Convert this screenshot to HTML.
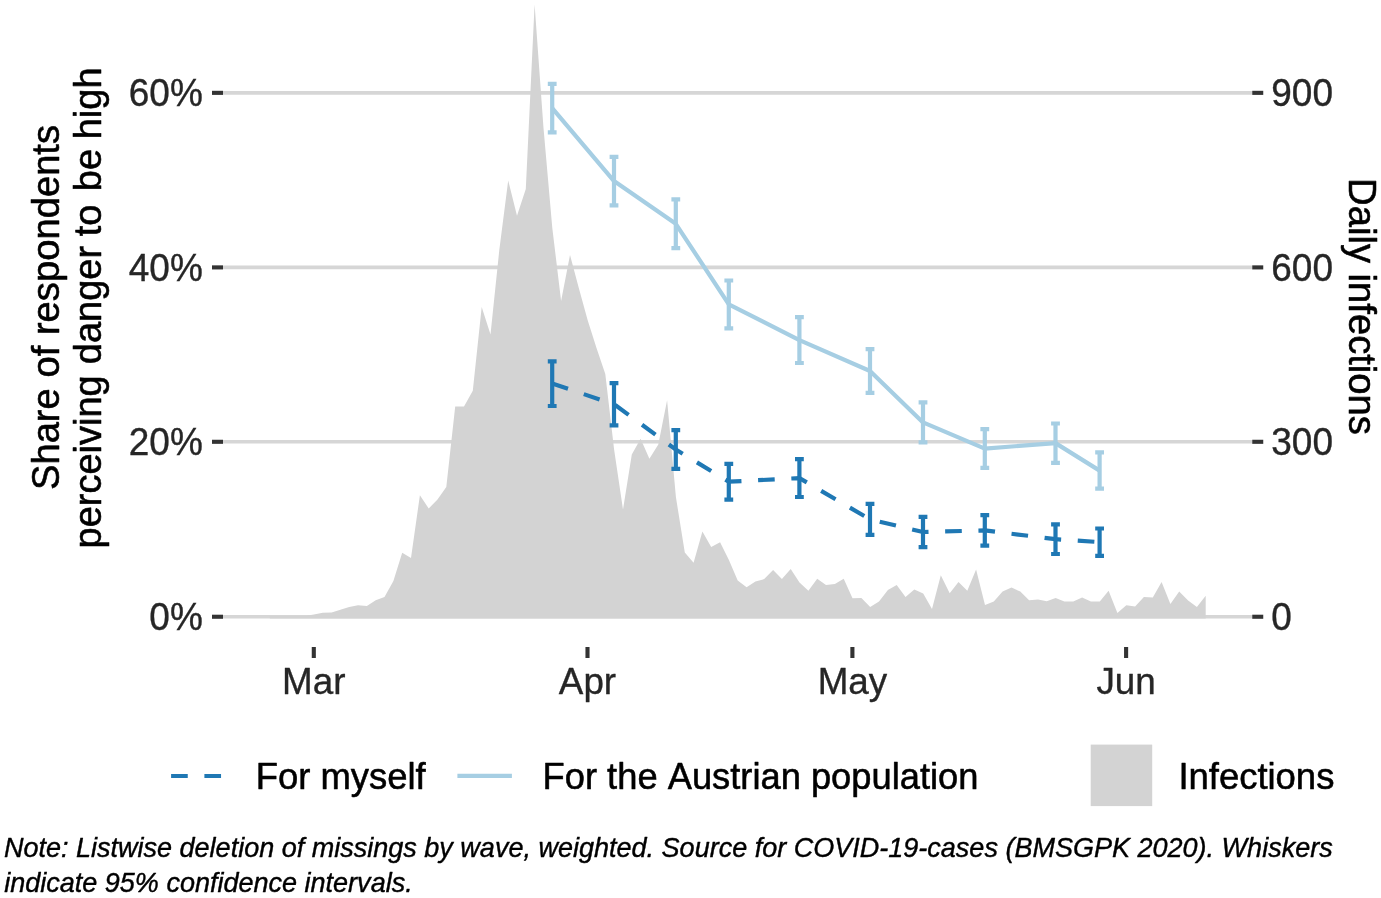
<!DOCTYPE html>
<html><head><meta charset="utf-8"><title>chart</title>
<style>
html,body{margin:0;padding:0;background:#fff;}
body{width:1381px;height:898px;overflow:hidden;}
text{font-kerning:none;}
svg{display:block;will-change:transform;font-family:"Liberation Sans",sans-serif;}
</style></head><body>
<svg width="1381" height="898" viewBox="0 0 1381 898">
<rect width="1381" height="898" fill="#fff"/>
<g stroke="#D6D6D6" stroke-width="3.6"><line x1="223.0" x2="1252.25" y1="92.85" y2="92.85"/><line x1="223.0" x2="1252.25" y1="267.4" y2="267.4"/><line x1="223.0" x2="1252.25" y1="441.8" y2="441.8"/><line x1="223.0" x2="1252.25" y1="616.75" y2="616.75"/></g>
<path d="M269.8,618.6 L269.8,616.0 L278.6,616.0 L287.4,616.0 L296.2,616.0 L305.1,616.0 L313.9,614.6 L322.7,612.7 L331.6,612.5 L340.4,609.7 L349.2,607.1 L358.0,605.2 L366.9,606.1 L375.7,600.2 L384.5,597.0 L393.4,581.0 L402.2,552.8 L411.0,558.1 L419.9,495.2 L428.7,508.6 L437.5,499.4 L446.3,486.9 L455.2,406.5 L464.0,406.5 L472.8,390.7 L481.7,307.0 L490.5,334.4 L499.3,250.0 L508.2,180.5 L517.0,215.7 L525.8,189.0 L534.6,4.6 L543.5,128.0 L552.3,228.0 L561.1,301.0 L570.0,255.0 L578.8,288.0 L587.6,320.0 L596.5,348.0 L605.3,374.0 L614.1,449.5 L623.0,509.6 L631.8,454.5 L640.6,438.8 L649.4,458.8 L658.3,444.6 L667.1,400.3 L675.9,497.1 L684.8,552.4 L693.6,562.7 L702.4,531.5 L711.2,547.0 L720.1,542.2 L728.9,560.0 L737.7,580.5 L746.6,587.3 L755.4,581.4 L764.2,579.1 L773.1,569.9 L781.9,578.9 L790.7,569.1 L799.5,582.5 L808.4,590.8 L817.2,578.8 L826.0,585.0 L834.9,584.1 L843.7,578.8 L852.5,598.3 L861.4,598.0 L870.2,607.1 L879.0,601.6 L887.9,590.0 L896.7,585.0 L905.5,597.0 L914.3,589.6 L923.2,593.6 L932.0,609.1 L940.8,575.3 L949.7,593.3 L958.5,582.1 L967.3,590.8 L976.1,569.5 L985.0,604.9 L993.8,601.5 L1002.6,591.6 L1011.5,587.6 L1020.3,591.6 L1029.1,600.3 L1038.0,599.4 L1046.8,601.2 L1055.6,597.9 L1064.4,601.5 L1073.3,601.5 L1082.1,597.6 L1090.9,601.5 L1099.8,601.5 L1108.6,590.7 L1117.4,613.0 L1126.3,605.2 L1135.1,606.6 L1143.9,597.0 L1152.8,597.6 L1161.6,582.0 L1170.4,603.9 L1179.2,591.6 L1188.1,600.6 L1196.9,607.0 L1205.7,595.8 L1205.7,618.6 Z" fill="#D3D3D3"/>
<polyline fill="none" stroke="#A6CEE3" stroke-width="4.2" stroke-linejoin="round"  points="552.2,108.1 614.0,181.1 675.8,223.8 728.8,304.4 799.4,340.1 870.0,371.0 923.0,422.4 984.8,448.6 1055.5,443.1 1099.6,470.6"/>
<path fill="none" stroke="#A6CEE3" stroke-width="4.2" d="M547.8,83.9H556.6M552.2,83.9V132.3M547.8,132.3H556.6M609.6,156.8H618.4M614.0,156.8V205.4M609.6,205.4H618.4M671.4,199.4H680.2M675.8,199.4V248.2M671.4,248.2H680.2M724.4,280.5H733.2M728.8,280.5V328.4M724.4,328.4H733.2M795.0,317.1H803.8M799.4,317.1V363.0M795.0,363.0H803.8M865.6,349.2H874.4M870.0,349.2V392.8M865.6,392.8H874.4M918.6,402.3H927.4M923.0,402.3V442.4M918.6,442.4H927.4M980.4,429.2H989.2M984.8,429.2V467.9M980.4,467.9H989.2M1051.1,423.5H1059.9M1055.5,423.5V462.8M1051.1,462.8H1059.9M1095.2,452.4H1104.0M1099.6,452.4V488.7M1095.2,488.7H1104.0"/>
<polyline fill="none" stroke="#1F78B4" stroke-width="4.2" stroke-linejoin="round" stroke-dasharray="16.65 16.65" points="552.2,383.6 614.0,404.2 675.8,449.5 728.8,481.7 799.4,478.1 870.0,519.4 923.0,532.0 984.8,530.4 1055.5,539.2 1099.6,542.1"/>
<path fill="none" stroke="#1F78B4" stroke-width="4.2" d="M547.8,361.3H556.6M552.2,361.3V406.0M547.8,406.0H556.6M609.6,383.1H618.4M614.0,383.1V425.4M609.6,425.4H618.4M671.4,430.2H680.2M675.8,430.2V468.8M671.4,468.8H680.2M724.4,463.8H733.2M728.8,463.8V499.6M724.4,499.6H733.2M795.0,459.1H803.8M799.4,459.1V497.0M795.0,497.0H803.8M865.6,503.8H874.4M870.0,503.8V534.9M865.6,534.9H874.4M918.6,516.9H927.4M923.0,516.9V547.1M918.6,547.1H927.4M980.4,515.1H989.2M984.8,515.1V545.7M980.4,545.7H989.2M1051.1,524.3H1059.9M1055.5,524.3V554.0M1051.1,554.0H1059.9M1095.2,528.5H1104.0M1099.6,528.5V555.8M1095.2,555.8H1104.0"/>
<g stroke="#333333" stroke-width="4.1"><line x1="212.0" x2="223.0" y1="92.85" y2="92.85"/><line x1="212.0" x2="223.0" y1="267.4" y2="267.4"/><line x1="212.0" x2="223.0" y1="441.8" y2="441.8"/><line x1="212.0" x2="223.0" y1="616.75" y2="616.75"/><line x1="1252.25" x2="1263.25" y1="92.85" y2="92.85"/><line x1="1252.25" x2="1263.25" y1="267.4" y2="267.4"/><line x1="1252.25" x2="1263.25" y1="441.8" y2="441.8"/><line x1="1252.25" x2="1263.25" y1="616.75" y2="616.75"/><line x1="313.8" x2="313.8" y1="647" y2="658"/><line x1="587.5" x2="587.5" y1="647" y2="658"/><line x1="852.4" x2="852.4" y1="647" y2="658"/><line x1="1126.1" x2="1126.1" y1="647" y2="658"/></g>
<g font-size="37.0" fill="#262626" stroke="#262626" stroke-width="0.35" stroke-linejoin="round"><text transform="translate(202.8,106.1) scale(1,1.045)" text-anchor="end">60%</text><text transform="translate(202.8,280.7) scale(1,1.045)" text-anchor="end">40%</text><text transform="translate(202.8,455.1) scale(1,1.045)" text-anchor="end">20%</text><text transform="translate(202.8,630.0) scale(1,1.045)" text-anchor="end">0%</text><text transform="translate(1271.3,106.1) scale(1,1.045)">900</text><text transform="translate(1271.3,280.7) scale(1,1.045)">600</text><text transform="translate(1271.3,455.1) scale(1,1.045)">300</text><text transform="translate(1271.3,630.0) scale(1,1.045)">0</text><text x="313.8" y="693.7" text-anchor="middle" font-size="36.8">Mar</text><text x="587.5" y="693.7" text-anchor="middle" font-size="36.8">Apr</text><text x="852.4" y="693.7" text-anchor="middle" font-size="36.8">May</text><text x="1126.1" y="693.7" text-anchor="middle" font-size="36.8">Jun</text></g>
<g font-size="38.2" fill="#000" stroke="#000" stroke-width="0.55" stroke-linejoin="round">
<text transform="translate(59.3,307.5) rotate(-90)" text-anchor="middle">Share of respondents</text>
<g font-size="38"><text transform="translate(100.6,548.5) rotate(-90)">perceiving</text>
<text transform="translate(100.6,364.2) rotate(-90)">danger</text>
<text transform="translate(100.6,236.3) rotate(-90)">to</text>
<text transform="translate(100.6,191.2) rotate(-90)">be</text>
<text transform="translate(100.6,139.3) rotate(-90)">high</text></g>
<text transform="translate(1349.3,306.5) rotate(90)" text-anchor="middle">Daily infections</text>
</g>
<g>
<line x1="171.1" x2="225.6" y1="776" y2="776" stroke="#1F78B4" stroke-width="4.2" stroke-dasharray="16.65 16.65"/>
<line x1="457.4" x2="511.9" y1="775.8" y2="775.8" stroke="#A6CEE3" stroke-width="4.2"/>
<rect x="1090.7" y="744.6" width="61.5" height="61.5" fill="#D3D3D3"/>
<g font-size="36.45" fill="#000" stroke="#000" stroke-width="0.55" stroke-linejoin="round">
<text x="255.7" y="789.2">For myself</text>
<text x="542.6" y="789.2" font-size="36.3">For the Austrian population</text>
<text x="1178.4" y="789.2">Infections</text>
</g>
</g>
<g font-size="27.02" font-style="italic" fill="#000" stroke="#000" stroke-width="0.4" stroke-linejoin="round">
<text x="3.9" y="857.2">Note: Listwise deletion of missings by wave, weighted. Source for COVID-19-cases (BMSGPK 2020). Whiskers</text>
<text x="4.2" y="892.2">indicate 95% confidence intervals.</text>
</g>
</svg>
</body></html>
